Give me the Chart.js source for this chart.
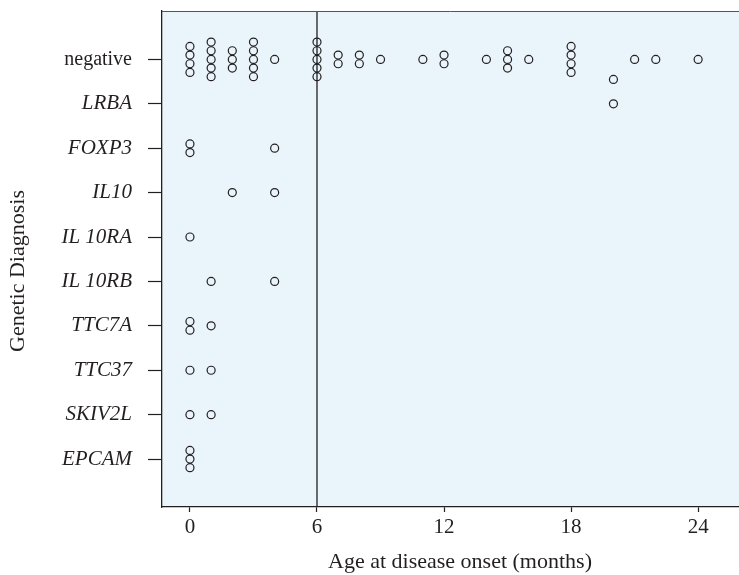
<!DOCTYPE html>
<html>
<head>
<meta charset="utf-8">
<script src="https://cdn.jsdelivr.net/npm/chart.js@4/dist/chart.umd.min.js"></script>
<style>
    html, body { margin: 0; padding: 0; background: #fff; }
    #wrap { width: 739px; height: 575px; }
</style>
</head>
<body>
<div id="wrap"><canvas id="dot-chart" width="739" height="575"></canvas></div>
<script>
// Categories, top to bottom
const categories = ['negative', 'LRBA', 'FOXP3', 'IL10', 'IL 10RA', 'IL 10RB', 'TTC7A', 'TTC37', 'SKIV2L', 'EPCAM'];

// Age at onset (months) of every patient, per diagnosis
const agesNegative = [0, 0, 0, 0, 1, 1, 1, 1, 1, 2, 2, 2, 3, 3, 3, 3, 3, 4, 6, 6, 6, 6, 6, 7, 7, 8, 8, 9, 11, 12, 12, 14, 15, 15, 15, 16, 18, 18, 18, 18, 21, 22, 24];
const agesLRBA = [20, 20];
const agesFOXP3 = [0, 0, 4];
const agesIL10 = [2, 4];
const agesIL10RA = [0];
const agesIL10RB = [1, 4];
const agesTTC7A = [0, 0, 1];
const agesTTC37 = [0, 1];
const agesSKIV2L = [0, 1];
const agesEPCAM = [0, 0, 0];

// one LRBA dot is drawn higher up in the original
const lrbaLift = [0, 0.55];

const xTicks = [0, 6, 12, 18, 24];
const cutoffMonths = 6;

const allAges = [agesNegative, agesLRBA, agesFOXP3, agesIL10, agesIL10RA, agesIL10RB, agesTTC7A, agesTTC37, agesSKIV2L, agesEPCAM];

const serif = '"Liberation Serif", "Times New Roman", serif';
const ink = '#231f20';

// stacking of dots sharing the same age
function buildPoints() {
    const pts = [];
    const step = 0.195;
    allAges.forEach((ages, ci) => {
        const rowY = categories.length - ci;
        const counts = {};
        ages.forEach(a => { counts[a] = (counts[a] || 0) + 1; });
        const seen = {};
        ages.forEach((a, i) => {
            const k = seen[a] || 0;
            seen[a] = k + 1;
            let off = ((counts[a] - 1) / 2 - k) * step;
            if (categories[ci] === 'LRBA') off = lrbaLift[i];
            pts.push({ x: a, y: rowY + off });
        });
    });
    return pts;
}

// background, top border and axis titles
const framePlugin = {
    id: 'frame',
    beforeDraw(chart) {
        const { ctx, chartArea: a } = chart;
        ctx.save();
        ctx.fillStyle = '#e9f4fb';
        ctx.fillRect(a.left, a.top, a.right - a.left, a.bottom - a.top);
        ctx.restore();
    },
    afterDraw(chart) {
        const { ctx, chartArea: a } = chart;
        ctx.save();
        ctx.strokeStyle = '#555';
        ctx.lineWidth = 1;
        ctx.beginPath();
        ctx.moveTo(a.left, a.top + 0.5);
        ctx.lineTo(a.right, a.top + 0.5);
        ctx.stroke();

        ctx.fillStyle = ink;
        ctx.font = '22px ' + serif;
        ctx.textAlign = 'center';
        ctx.textBaseline = 'alphabetic';
        ctx.fillText('Age at disease onset (months)', 460, 568);

        ctx.translate(24, 271);
        ctx.rotate(-Math.PI / 2);
        ctx.fillText('Genetic Diagnosis', 0, 0);
        ctx.restore();
    }
};

function initChart() {
    const ctx = document.getElementById('dot-chart').getContext('2d');
    new Chart(ctx, {
        type: 'scatter',
        data: {
            datasets: [{
                type: 'line',
                data: [{ x: cutoffMonths, y: -0.08 }, { x: cutoffMonths, y: 11.09 }],
                borderColor: ink,
                borderWidth: 1.3,
                pointRadius: 0,
                fill: false
            }, {
                data: buildPoints(),
                pointStyle: 'circle',
                pointRadius: 4,
                pointHoverRadius: 4,
                borderWidth: 1.2,
                borderColor: ink,
                backgroundColor: 'rgba(0,0,0,0)'
            }]
        },
        options: {
            responsive: false,
            animation: false,
            layout: { autoPadding: false, padding: { top: 11, right: 0, left: 0, bottom: 0 } },
            plugins: {
                legend: { display: false },
                tooltip: { enabled: false }
            },
            scales: {
                x: {
                    type: 'linear',
                    min: -1.32,
                    max: 25.93,
                    afterBuildTicks: s => { s.ticks = xTicks.map(v => ({ value: v })); },
                    afterFit: s => {
                        s.height = 68;
                        s.paddingLeft = 0;
                        s.paddingRight = 0;
                    },
                    grid: { drawOnChartArea: false, tickLength: 5, tickColor: ink, tickWidth: 1.2 },
                    border: { color: ink, width: 1.3 },
                    ticks: { color: ink, padding: 3, font: { family: serif, size: 21 } }
                },
                y: {
                    type: 'linear',
                    min: -0.08,
                    max: 11.09,
                    afterBuildTicks: s => { s.ticks = categories.map((c, i) => ({ value: categories.length - i })); },
                    afterFit: s => {
                        s.width = 162;
                        s.paddingTop = 0;
                        s.paddingBottom = 0;
                    },
                    grid: { drawOnChartArea: false, tickLength: 14, tickColor: ink, tickWidth: 1.2 },
                    border: { color: ink, width: 1.3 },
                    ticks: {
                        color: ink,
                        padding: 16,
                        autoSkip: false,
                        callback: v => categories[categories.length - v],
                        font: c => {
                            const plain = c.tick && c.tick.value === categories.length;
                            return { family: serif, size: plain ? 20 : 21, style: plain ? 'normal' : 'italic' };
                        }
                    }
                }
            }
        },
        plugins: [framePlugin]
    });
}

document.addEventListener('DOMContentLoaded', initChart);
</script>
</body>
</html>
